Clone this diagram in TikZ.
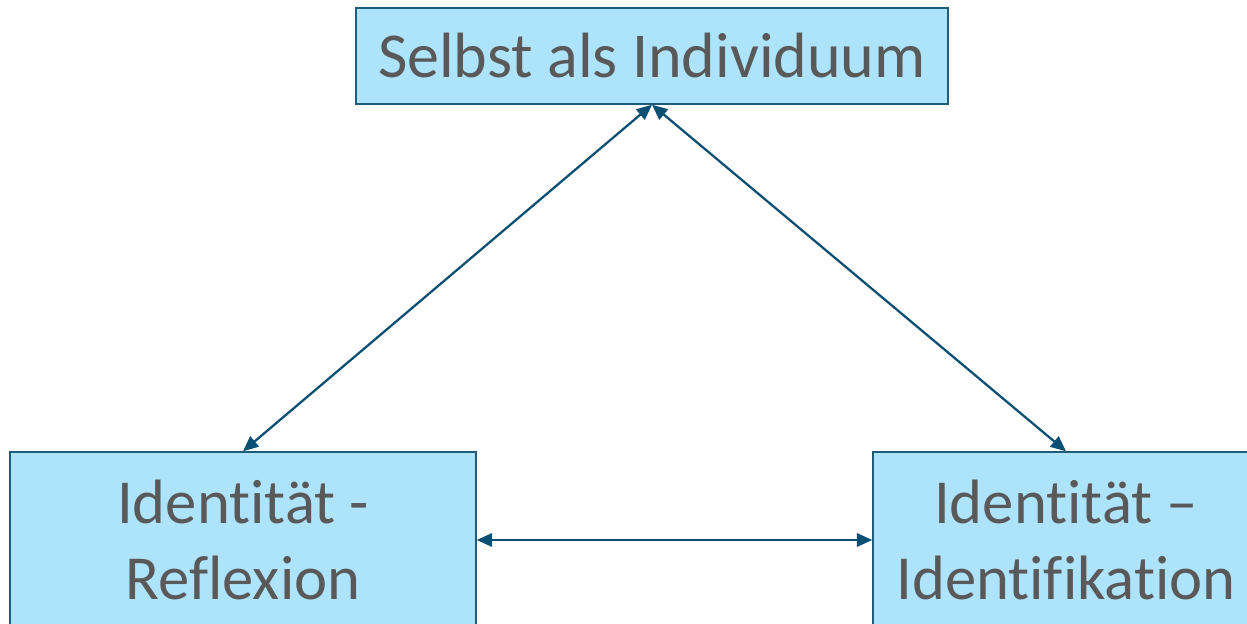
\documentclass[tikz,border=0pt]{standalone}
\usepackage{fontspec}
\setmainfont[Ligatures=NoCommon]{Carlito}
\usetikzlibrary{arrows.meta}
\definecolor{boxfill}{HTML}{AEE3FC}
\definecolor{boxline}{HTML}{1F5C7A}
\definecolor{linkcol}{HTML}{0B4F73}
\definecolor{txtgray}{HTML}{595959}
\begin{document}
\begin{tikzpicture}[x=0.75pt, y=-0.75pt,
    box/.style = {draw=boxline, fill=boxfill, line width=1.1pt, inner sep=0pt,
                  text=txtgray, align=center},
    link/.style = {draw=linkcol, line width=1.7pt,
                   {Triangle[length=11.5pt, width=10pt]}-{Triangle[length=11.5pt, width=10pt]}}]
                \useasboundingbox (0, 0) rectangle (1247, 624);
                \node[box, minimum width=444pt, minimum height=72pt, font=\fontsize{48}{56}\selectfont]
                    (self) at (652, 56) {Selbst als Individuum};
                \node[box, minimum width=349.5pt, minimum height=132pt, font=\fontsize{47}{57}\selectfont]
                    (reflex) at (243, 540) {Identität -\\Reflexion};
                \node[box, minimum width=289.5pt, minimum height=132pt, font=\fontsize{47}{57}\selectfont]
                    (ident) at (1066, 540) {Identität –\\Identifikation};
                \draw[link] (self.south) -- (reflex.north);
                \draw[link] (self.south) -- (ident.north);
                \draw[link] (reflex.east) -- (ident.west);
            \end{tikzpicture}
\end{document}
